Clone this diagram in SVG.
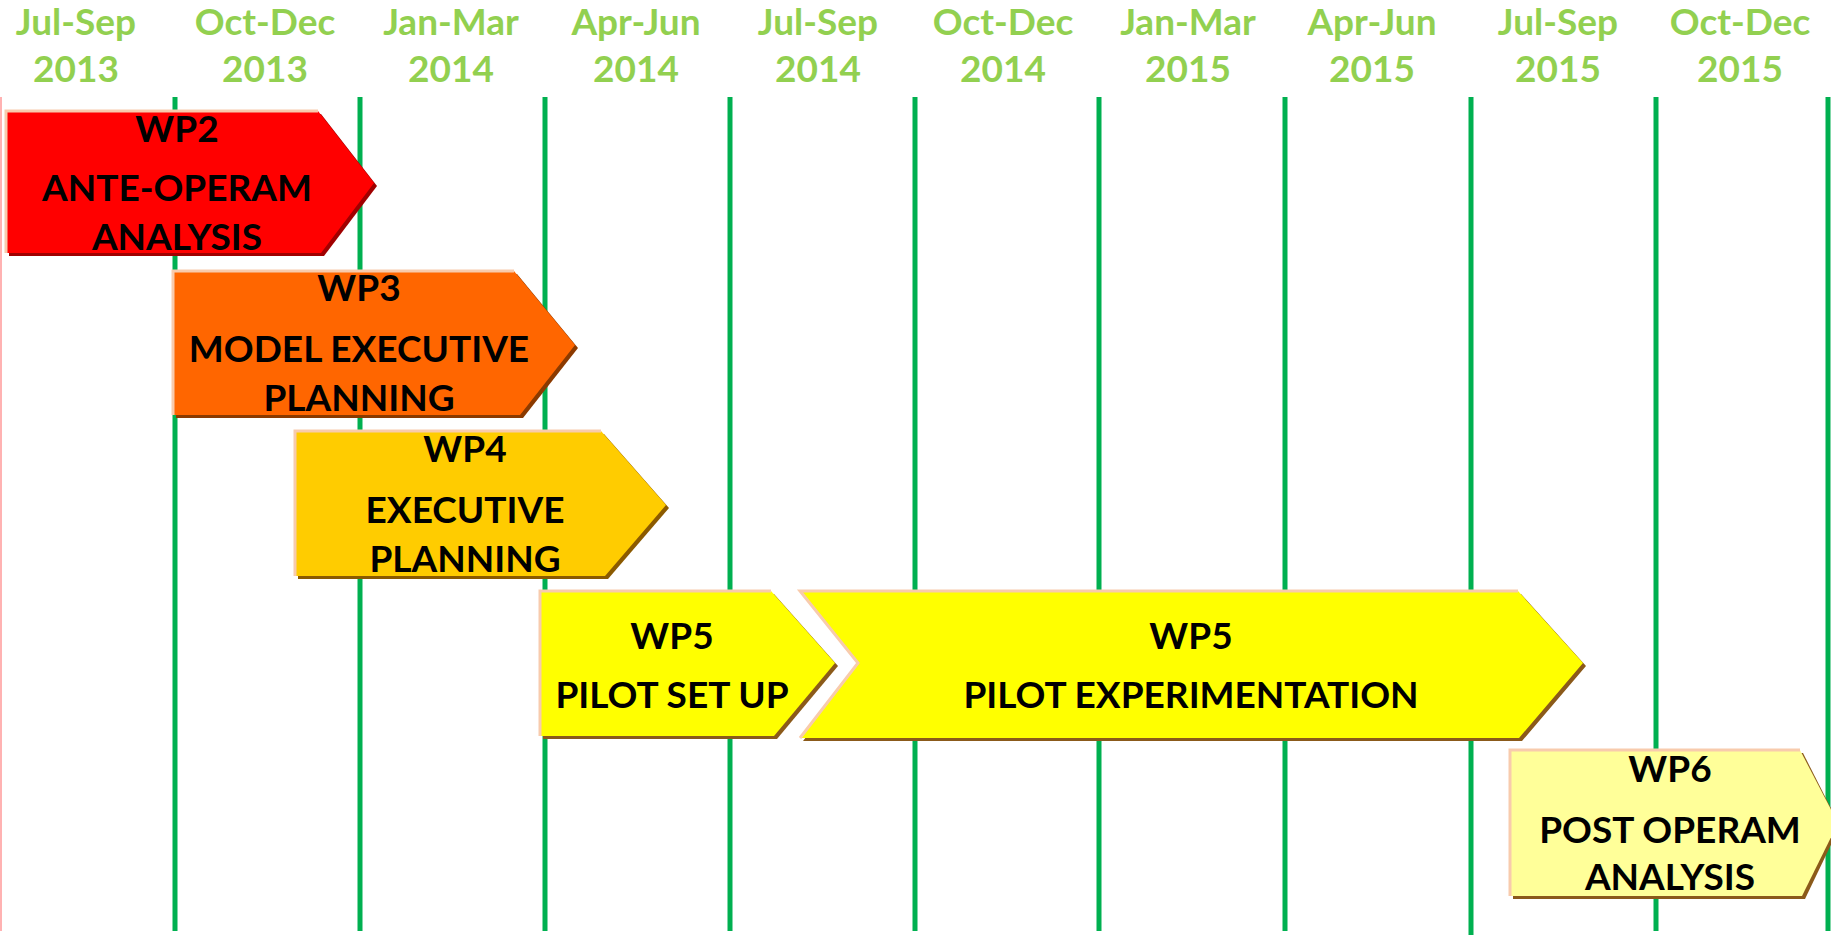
<svg xmlns="http://www.w3.org/2000/svg" width="1831" height="935" viewBox="0 0 1831 935">
<style>
.hdr{font-family:Lato,"Liberation Sans",sans-serif;font-weight:700;font-size:37px;fill:#92D050;text-anchor:middle}
.lbl{font-family:Lato,"Liberation Sans",sans-serif;font-weight:700;font-size:37px;fill:#000;text-anchor:middle}
.grid{stroke:#00B050;stroke-width:5}
.edge{fill:none;stroke:#F8CBAD;stroke-width:3}
</style>
<rect width="1831" height="935" fill="#fff"/>
<g id="grid">
<line x1="1" y1="97" x2="1" y2="931" stroke="#FF9999" stroke-width="1.5"/>
<line class="grid" x1="175" y1="97" x2="175" y2="931"/>
<line class="grid" x1="360" y1="97" x2="360" y2="931"/>
<line class="grid" x1="545" y1="97" x2="545" y2="931"/>
<line class="grid" x1="730" y1="97" x2="730" y2="931"/>
<line class="grid" x1="915" y1="97" x2="915" y2="931"/>
<line class="grid" x1="1099" y1="97" x2="1099" y2="931"/>
<line class="grid" x1="1285" y1="97" x2="1285" y2="931"/>
<line class="grid" x1="1471" y1="97" x2="1471" y2="935"/>
<line class="grid" x1="1656" y1="97" x2="1656" y2="931"/>
<line class="grid" x1="1828" y1="97" x2="1828" y2="931"/>
</g>
<g id="header">
<text class="hdr" x="76" y="35">Jul-Sep</text><text class="hdr" x="76" y="82">2013</text>
<text class="hdr" x="265" y="35">Oct-Dec</text><text class="hdr" x="265" y="82">2013</text>
<text class="hdr" x="451" y="35">Jan-Mar</text><text class="hdr" x="451" y="82">2014</text>
<text class="hdr" x="636" y="35">Apr-Jun</text><text class="hdr" x="636" y="82">2014</text>
<text class="hdr" x="818" y="35">Jul-Sep</text><text class="hdr" x="818" y="82">2014</text>
<text class="hdr" x="1003" y="35">Oct-Dec</text><text class="hdr" x="1003" y="82">2014</text>
<text class="hdr" x="1188" y="35">Jan-Mar</text><text class="hdr" x="1188" y="82">2015</text>
<text class="hdr" x="1372" y="35">Apr-Jun</text><text class="hdr" x="1372" y="82">2015</text>
<text class="hdr" x="1558" y="35">Jul-Sep</text><text class="hdr" x="1558" y="82">2015</text>
<text class="hdr" x="1740" y="35">Oct-Dec</text><text class="hdr" x="1740" y="82">2015</text>
</g>
<g id="wp2">
<polygon points="9,114 321,114 377,186 324,256 9,256" fill="#A00000"/>
<polygon points="6,111 318,111 374,183 321,253 6,253" fill="#FF0000"/>
<polyline class="edge" points="6,253 6,111 318,111" stroke="#FF9999"/>
<text class="lbl" x="177" y="142">WP2</text>
<text class="lbl" x="177" y="201">ANTE-OPERAM</text>
<text class="lbl" x="177" y="250">ANALYSIS</text>
</g>
<g id="wp3">
<polygon points="176,274 517,274 578,348 523,418 176,418" fill="#8B3A00"/>
<polygon points="173,271 514,271 575,345 520,415 173,415" fill="#FF6600"/>
<polyline class="edge" points="173,415 173,271 514,271"/>
<text class="lbl" x="359" y="301">WP3</text>
<text class="lbl" x="359" y="362">MODEL EXECUTIVE</text>
<text class="lbl" x="359" y="411">PLANNING</text>
</g>
<g id="wp4">
<polygon points="298,434 604,434 669,508 608,579 298,579" fill="#8B5A00"/>
<polygon points="295,431 601,431 666,505 605,576 295,576" fill="#FFCC00"/>
<polyline class="edge" points="295,576 295,431 601,431"/>
<text class="lbl" x="465" y="462">WP4</text>
<text class="lbl" x="465" y="523">EXECUTIVE</text>
<text class="lbl" x="465" y="572">PLANNING</text>
</g>
<g id="wp5a">
<polygon points="543,594 774,594 838,666 777,739 543,739" fill="#8B5A1A"/>
<polygon points="540,591 771,591 835,663 774,736 540,736" fill="#FFFF00"/>
<polyline class="edge" points="540,736 540,591 771,591"/>
<text class="lbl" x="672" y="649">WP5</text>
<text class="lbl" x="672" y="708">PILOT SET UP</text>
</g>
<g id="wp5b">
<polygon points="803,594 1521,594 1586,666 1522,741 803,741 861,666" fill="#8B5A1A"/>
<polygon points="800,591 1518,591 1583,663 1519,738 800,738 858,663" fill="#FFFF00"/>
<polyline class="edge" points="800,738 858,663 800,591 1518,591"/>
<text class="lbl" x="1191" y="649">WP5</text>
<text class="lbl" x="1191" y="708">PILOT EXPERIMENTATION</text>
</g>
<g id="wp6">
<polygon points="1513,753 1803,753 1840,826 1805,899 1513,899" fill="#8B5A1A"/>
<polygon points="1510,750 1800,750 1838,823 1802,896 1510,896" fill="#FFFF99"/>
<polyline class="edge" points="1510,896 1510,750 1800,750"/>
<text class="lbl" x="1670" y="782">WP6</text>
<text class="lbl" x="1670" y="843">POST OPERAM</text>
<text class="lbl" x="1670" y="890">ANALYSIS</text>
</g>
</svg>
